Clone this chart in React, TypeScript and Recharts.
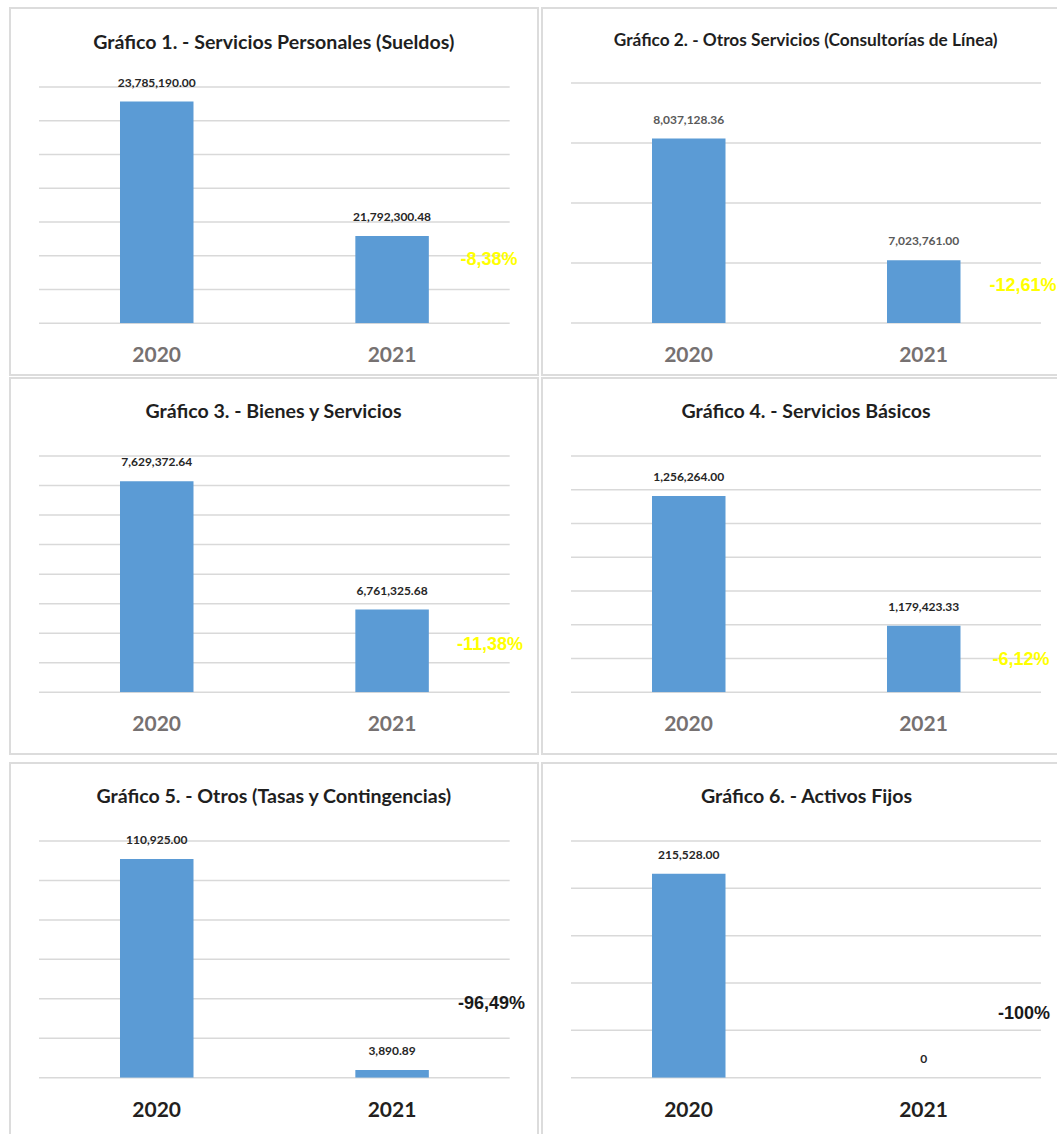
import React from 'react';
import { BarChart, Bar, XAxis, YAxis, CartesianGrid, LabelList } from 'recharts';

// ---------- data ----------
const years = ['2020', '2021'];

const titles = [
  'Gráfico 1. - Servicios Personales (Sueldos)',
  'Gráfico 2. - Otros Servicios (Consultorías de Línea)',
  'Gráfico 3. - Bienes y Servicios',
  'Gráfico 4. - Servicios Básicos',
  'Gráfico 5. - Otros (Tasas y Contingencias)',
  'Gráfico 6. - Activos Fijos',
];

const values1 = [23785190.0, 21792300.48];
const values2 = [8037128.36, 7023761.0];
const values3 = [7629372.64, 6761325.68];
const values4 = [1256264.0, 1179423.33];
const values5 = [110925.0, 3890.89];
const values6 = [215528.0, 0];

const ticks1 = [20500000, 21000000, 21500000, 22000000, 22500000, 23000000, 23500000, 24000000];
const ticks2 = [6500000, 7000000, 7500000, 8000000, 8500000];
const ticks3 = [6200000, 6400000, 6600000, 6800000, 7000000, 7200000, 7400000, 7600000, 7800000];
const ticks4 = [1140000, 1160000, 1180000, 1200000, 1220000, 1240000, 1260000, 1280000];
const ticks5 = [0, 20000, 40000, 60000, 80000, 100000, 120000];
const ticks6 = [0, 50000, 100000, 150000, 200000, 250000];

const percents = ['-8,38%', '-12,61%', '-11,38%', '-6,12%', '-96,49%', '-100%'];

const allValues = [values1, values2, values3, values4, values5, values6];
const allTicks = [ticks1, ticks2, ticks3, ticks4, ticks5, ticks6];

// ---------- layout / style ----------
const FONT = 'Lato, "Open Sans", sans-serif';
const PCT_FONT = '"Liberation Sans", Arial, sans-serif';
const BAR_COLOR = '#5b9bd5';
const GRID_COLOR = '#d9d9d9';

const panelBoxes = [
  { left: 9, top: 7, width: 530, height: 369 },
  { left: 541, top: 7, width: 530, height: 369 },
  { left: 9, top: 376.5, width: 530, height: 378 },
  { left: 541, top: 376.5, width: 530, height: 378 },
  { left: 9, top: 761.5, width: 530, height: 420 },
  { left: 541, top: 761.5, width: 530, height: 420 },
];

const plots = [
  { left: 38.9, right: 509.6, top: 86.7, bottom: 323 },
  { left: 571, right: 1041, top: 82.7, bottom: 322.7 },
  { left: 38.9, right: 509.6, top: 456, bottom: 692.3 },
  { left: 571, right: 1041, top: 456, bottom: 692.3 },
  { left: 38.9, right: 509.6, top: 841, bottom: 1077.7 },
  { left: 571, right: 1041, top: 841, bottom: 1077.7 },
];

const titleStyles = [
  { x: 273.8, y: 41.7, size: 19.6 },
  { x: 805.7, y: 39.3, size: 17.3 },
  { x: 273.5, y: 410.7, size: 19.6 },
  { x: 806, y: 410.7, size: 19.6 },
  { x: 273.8, y: 795.7, size: 19.6 },
  { x: 806.5, y: 795.7, size: 19.6 },
];

const pctStyles = [
  { x: 489, y: 259.3, color: '#ffff00' },
  { x: 1023, y: 285, color: '#ffff00' },
  { x: 490, y: 644, color: '#ffff00' },
  { x: 1021, y: 659.3, color: '#ffff00' },
  { x: 491.5, y: 1003.3, color: '#1a1a1a' },
  { x: 1024, y: 1012.7, color: '#1a1a1a' },
];

const labelColors = ['#262626', '#595959', '#262626', '#262626', '#262626', '#262626'];
const tickColors = ['#767171', '#767171', '#767171', '#767171', '#231f20', '#231f20'];

const TOPM = 30;
const XH = 50;

const fmt = (v: number) =>
  v === 0 ? '0' : v.toLocaleString('en-US', { minimumFractionDigits: 2, maximumFractionDigits: 2 });

const ValueLabel = (props: any) => {
  const { x, y, width, height, value, color } = props;
  const top = Math.min(Number(y), Number(y) + Number(height || 0));
  return (
    <text
      x={Number(x) + Number(width) / 2}
      y={top - 19.3}
      textAnchor="middle"
      dominantBaseline="central"
      fontFamily={FONT}
      fontWeight={700}
      fontSize={12}
      fill={color}
    >
      {value}
    </text>
  );
};

const YearTick = (props: any) => {
  const { x, y, payload, color } = props;
  return (
    <text
      x={x}
      y={Number(y) + 30.7}
      textAnchor="middle"
      dominantBaseline="central"
      fontFamily={FONT}
      fontWeight={700}
      fontSize={21}
      fill={color}
    >
      {payload.value}
    </text>
  );
};

const Panel = ({ i }: { i: number }) => {
  const p = plots[i];
  const ticks = allTicks[i];
  const data = years.map((yr, k) => ({ year: yr, value: allValues[i][k], label: fmt(allValues[i][k]) }));
  const w = p.right - p.left;
  const h = p.bottom - p.top;
  return (
    <div style={{ position: 'absolute', left: p.left, top: p.top - TOPM }}>
      <BarChart
        width={w}
        height={h + TOPM + XH}
        data={data}
        margin={{ top: TOPM, right: 0, bottom: 0, left: 0 }}
      >
        <CartesianGrid
          vertical={false}
          horizontalValues={ticks}
          stroke={GRID_COLOR}
          strokeWidth={1.5}
        />
        <XAxis
          dataKey="year"
          axisLine={false}
          tickLine={false}
          tickSize={0}
          tickMargin={0}
          height={XH}
          interval={0}
          tick={<YearTick color={tickColors[i]} />}
        />
        <YAxis hide domain={[ticks[0], ticks[ticks.length - 1]]} ticks={ticks} allowDataOverflow />
        <Bar
          dataKey="value"
          fill={BAR_COLOR}
          barSize={73.5}
          minPointSize={0.01}
          isAnimationActive={false}
        >
          <LabelList dataKey="label" content={<ValueLabel color={labelColors[i]} />} />
        </Bar>
      </BarChart>
    </div>
  );
};

export default function App() {
  return (
    <div
      style={{
        position: 'absolute',
        left: 0,
        top: 0,
        width: 1057,
        height: 1134,
        overflow: 'hidden',
        background: '#ffffff',
      }}
    >
      {panelBoxes.map((b, i) => (
        <div
          key={'box' + i}
          style={{
            position: 'absolute',
            left: b.left,
            top: b.top,
            width: b.width,
            height: b.height,
            boxSizing: 'border-box',
            border: '2px solid #dcdcdc',
          }}
        />
      ))}
      {plots.map((_, i) => (
        <Panel key={'p' + i} i={i} />
      ))}
      <svg
        width={1057}
        height={1134}
        style={{ position: 'absolute', left: 0, top: 0, pointerEvents: 'none' }}
      >
        {titles.map((t, i) => (
          <text
            key={'t' + i}
            x={titleStyles[i].x}
            y={titleStyles[i].y}
            textAnchor="middle"
            dominantBaseline="central"
            fontFamily={FONT}
            fontWeight={700}
            fontSize={titleStyles[i].size}
            fill="#1f1f1f"
          >
            {t}
          </text>
        ))}
        {percents.map((t, i) => (
          <text
            key={'pc' + i}
            x={pctStyles[i].x}
            y={pctStyles[i].y}
            textAnchor="middle"
            dominantBaseline="central"
            fontFamily={PCT_FONT}
            fontWeight={700}
            fontSize={18}
            fill={pctStyles[i].color}
          >
            {t}
          </text>
        ))}
      </svg>
    </div>
  );
}
